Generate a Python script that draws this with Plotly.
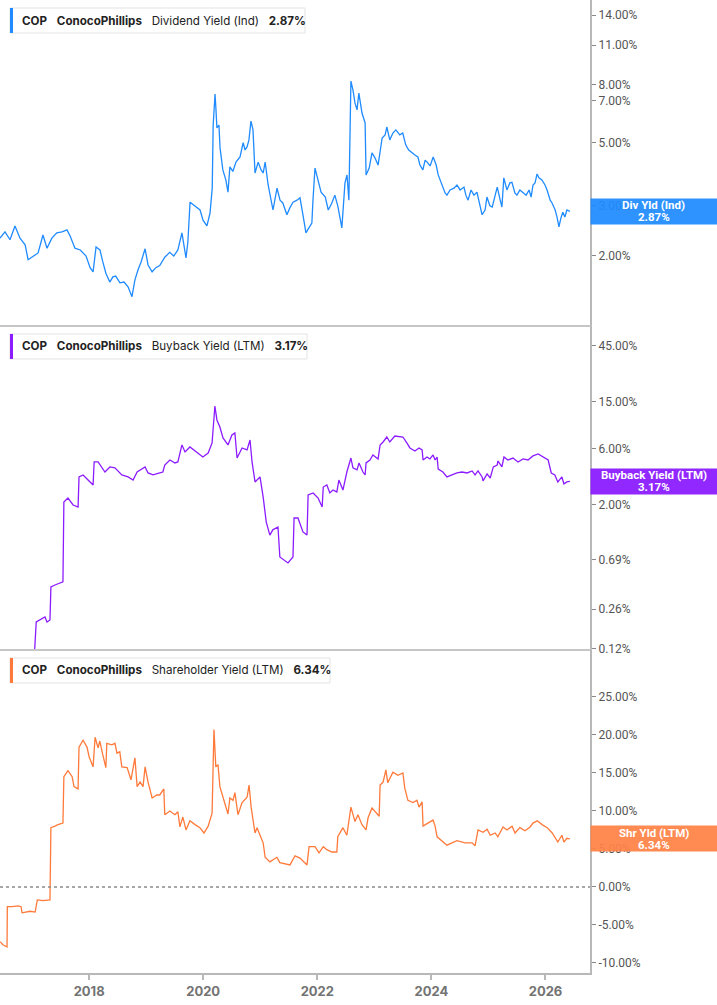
import numpy as np
import plotly.graph_objects as go
from plotly.subplots import make_subplots

# ---------------- data ----------------
div_dates = [
    "2016-06-09", "2016-07-11", "2016-08-12", "2016-09-13", "2016-10-15", "2016-11-17", "2016-12-06",
    "2017-01-07", "2017-02-08", "2017-03-11", "2017-04-06", "2017-05-07", "2017-06-08", "2017-07-11",
    "2017-08-12", "2017-09-01", "2017-10-02", "2017-11-05", "2017-12-12", "2018-01-07", "2018-01-26",
    "2018-02-14", "2018-03-11", "2018-03-29", "2018-04-18", "2018-05-13", "2018-06-02", "2018-06-20",
    "2018-07-17", "2018-08-12", "2018-09-07", "2018-10-02", "2018-10-21", "2018-11-10", "2018-11-30",
    "2018-12-25", "2019-01-13", "2019-02-08", "2019-03-04", "2019-03-29", "2019-04-30", "2019-06-01",
    "2019-06-27", "2019-07-23", "2019-08-18", "2019-09-13", "2019-09-25", "2019-10-09", "2019-11-10",
    "2019-12-12", "2019-12-31", "2020-01-25", "2020-02-14", "2020-02-28", "2020-03-05", "2020-03-17",
    "2020-03-23", "2020-03-29", "2020-04-11", "2020-04-18", "2020-05-06", "2020-05-25", "2020-06-08",
    "2020-06-20", "2020-07-09", "2020-07-29", "2020-08-24", "2020-09-13", "2020-09-25", "2020-10-08",
    "2020-10-20", "2020-11-02", "2020-11-15", "2020-11-28", "2020-12-18", "2021-01-06", "2021-01-19",
    "2021-02-01", "2021-02-20", "2021-03-05", "2021-03-23", "2021-04-18", "2021-05-07", "2021-05-25",
    "2021-06-20", "2021-07-09", "2021-07-29", "2021-08-24", "2021-09-12", "2021-10-01", "2021-10-20",
    "2021-11-08", "2021-11-27", "2021-12-04", "2021-12-17", "2022-01-05", "2022-01-25", "2022-02-21",
    "2022-03-12", "2022-04-04", "2022-04-23", "2022-05-12", "2022-06-07", "2022-06-27", "2022-07-10",
    "2022-07-22", "2022-07-28", "2022-08-04", "2022-08-17", "2022-08-30", "2022-09-12", "2022-09-24",
    "2022-10-14", "2022-11-03", "2022-11-09", "2022-11-29", "2022-12-17", "2023-01-05", "2023-01-25",
    "2023-02-07", "2023-02-20", "2023-03-11", "2023-03-22", "2023-04-10", "2023-04-30", "2023-05-19",
    "2023-06-13", "2023-07-02", "2023-07-21", "2023-08-09", "2023-08-30", "2023-09-18", "2023-10-07",
    "2023-10-20", "2023-11-08", "2023-11-22", "2023-12-05", "2023-12-24", "2024-01-13", "2024-02-01",
    "2024-02-14", "2024-03-10", "2024-03-29", "2024-04-10", "2024-04-30", "2024-05-25", "2024-06-13",
    "2024-07-03", "2024-07-28", "2024-08-09", "2024-08-23", "2024-09-11", "2024-09-30", "2024-10-19",
    "2024-11-08", "2024-11-21", "2024-12-10", "2024-12-22", "2025-01-10", "2025-01-25", "2025-02-13",
    "2025-02-26", "2025-03-17", "2025-03-28", "2025-04-09", "2025-04-29", "2025-05-18", "2025-05-31",
    "2025-06-19", "2025-07-02", "2025-07-21", "2025-08-09", "2025-08-30", "2025-09-18", "2025-10-01",
    "2025-10-13", "2025-10-26", "2025-11-08", "2025-11-20", "2025-12-09", "2025-12-29", "2026-01-11",
    "2026-01-31", "2026-02-12", "2026-03-04", "2026-03-17", "2026-03-28", "2026-04-10", "2026-04-22",
    "2026-05-05", "2026-05-18", "2026-06-06",
]
div_vals = [
    2.31, 2.43, 2.28, 2.55, 2.31, 2.19, 1.94,
    2.00, 2.05, 2.37, 2.13, 2.31, 2.41, 2.43,
    2.47, 2.35, 2.13, 2.10, 2.00, 1.82, 1.76,
    2.15, 2.10, 1.91, 1.74, 1.62, 1.69, 1.70,
    1.61, 1.62, 1.56, 1.44, 1.65, 1.79, 1.91,
    2.12, 1.86, 1.76, 1.82, 1.85, 1.98, 2.06,
    2.00, 2.10, 2.41, 1.97, 2.24, 3.09, 3.00,
    2.90, 2.67, 2.55, 2.83, 3.46, 5.76, 7.40,
    6.51, 5.63, 5.76, 4.79, 4.01, 3.70, 3.35,
    4.11, 3.96, 4.27, 4.45, 5.00, 4.71, 4.83,
    5.11, 5.95, 5.54, 3.91, 4.27, 4.01, 3.91,
    4.27, 3.55, 3.22, 2.90, 3.46, 3.14, 3.07,
    2.79, 2.95, 3.09, 3.14, 3.20, 2.79, 2.41,
    2.51, 2.61, 3.14, 4.07, 3.70, 3.35, 3.22,
    2.90, 3.07, 3.27, 3.00, 2.51, 3.61, 3.85,
    3.14, 5.11, 8.22, 7.65, 6.89, 6.51, 7.46,
    6.35, 5.86, 3.85, 4.07, 4.60, 4.42, 4.17,
    4.71, 5.19, 5.32, 5.67, 5.11, 5.40, 5.54,
    5.32, 5.40, 4.91, 4.71, 4.60, 4.52, 4.45,
    4.17, 4.01, 4.34, 4.27, 4.14, 4.45, 4.17,
    3.85, 3.55, 3.33, 3.27, 3.41, 3.46, 3.55,
    3.41, 3.49, 3.27, 3.14, 3.41, 3.27, 3.35,
    3.00, 2.79, 2.90, 3.22, 3.00, 2.97, 3.27,
    3.49, 3.14, 2.97, 3.76, 3.41, 3.61, 3.63,
    3.33, 3.27, 3.41, 3.35, 3.27, 3.41, 3.22,
    3.55, 3.61, 3.88, 3.76, 3.70, 3.55, 3.41,
    3.14, 3.07, 2.90, 2.72, 2.53, 2.72, 2.85,
    2.74, 2.90, 2.87,
]

bb_dates = [
    "2017-01-14", "2017-01-27", "2017-03-24", "2017-04-06", "2017-04-25", "2017-05-01", "2017-05-27",
    "2017-06-28", "2017-07-17", "2017-07-23", "2017-08-18", "2017-09-20", "2017-10-22", "2017-10-28",
    "2017-11-23", "2017-12-25", "2018-01-26", "2018-02-02", "2018-02-27", "2018-04-12", "2018-05-14",
    "2018-06-15", "2018-07-29", "2018-09-07", "2018-10-09", "2018-11-04", "2018-12-25", "2019-01-13",
    "2019-02-14", "2019-03-29", "2019-04-18", "2019-04-30", "2019-06-02", "2019-07-04", "2019-07-23",
    "2019-08-18", "2019-09-07", "2019-10-08", "2019-11-22", "2019-12-30", "2020-02-02", "2020-02-27",
    "2020-03-16", "2020-03-29", "2020-04-17", "2020-05-07", "2020-06-08", "2020-07-03", "2020-07-22",
    "2020-08-05", "2020-09-06", "2020-10-08", "2020-10-27", "2020-11-09", "2020-11-28", "2020-12-30",
    "2021-01-19", "2021-02-08", "2021-03-03", "2021-03-22", "2021-04-24", "2021-05-06", "2021-06-27",
    "2021-07-29", "2021-08-05", "2021-08-30", "2021-10-01", "2021-10-27", "2021-11-03", "2021-12-05",
    "2022-01-06", "2022-02-01", "2022-02-08", "2022-03-03", "2022-03-22", "2022-04-11", "2022-05-06",
    "2022-05-19", "2022-06-14", "2022-07-09", "2022-08-04", "2022-08-17", "2022-09-12", "2022-09-25",
    "2022-10-20", "2022-11-03", "2022-11-09", "2022-12-04", "2022-12-23", "2023-01-25", "2023-02-07",
    "2023-02-26", "2023-03-22", "2023-04-10", "2023-05-12", "2023-06-14", "2023-07-03", "2023-07-28",
    "2023-08-17", "2023-09-18", "2023-10-14", "2023-11-03", "2023-11-09", "2023-12-04", "2023-12-23",
    "2024-01-12", "2024-01-25", "2024-02-07", "2024-02-14", "2024-03-15", "2024-04-10", "2024-05-12",
    "2024-06-13", "2024-07-15", "2024-08-17", "2024-09-18", "2024-10-07", "2024-10-26", "2024-11-21",
    "2024-11-27", "2024-12-23", "2025-01-12", "2025-02-01", "2025-02-26", "2025-03-02", "2025-03-28",
    "2025-04-10", "2025-05-05", "2025-06-07", "2025-07-09", "2025-08-10", "2025-09-11", "2025-10-13",
    "2025-11-15", "2025-12-16", "2026-01-18", "2026-02-07", "2026-03-02", "2026-03-21", "2026-04-16",
    "2026-04-29", "2026-05-18", "2026-06-06",
]
bb_vals = [
    0.10, 0.203, 0.224, 0.203, 0.211, 0.402, 0.418,
    0.43, 0.444, 2.12, 2.29, 2.00, 1.92, 3.46,
    3.60, 3.26, 2.96, 4.64, 4.64, 3.81, 4.21,
    4.13, 3.60, 3.46, 3.26, 3.81, 4.21, 3.74,
    3.60, 3.74, 3.81, 4.37, 4.82, 4.55, 4.64,
    6.47, 5.64, 6.22, 5.64, 5.11, 5.53, 6.73,
    13.87, 10.55, 9.20, 7.42, 6.47, 7.86, 8.18,
    5.01, 6.10, 5.87, 7.13, 4.64, 3.14, 3.46,
    2.34, 1.43, 1.11, 1.23, 1.30, 0.723, 0.643,
    0.723, 1.55, 1.55, 1.18, 1.11, 2.43, 2.53,
    2.29, 1.92, 2.84, 2.96, 2.53, 2.68, 2.58,
    3.26, 2.68, 3.81, 5.01, 4.13, 3.97, 4.55,
    3.81, 3.60, 4.55, 4.82, 5.32, 4.92, 6.47,
    6.86, 7.56, 6.86, 7.71, 7.56, 7.56, 6.73,
    6.10, 5.75, 6.10, 5.87, 4.82, 5.11, 4.92,
    5.32, 4.82, 5.11, 4.04, 3.81, 3.46, 3.60,
    3.74, 3.81, 3.74, 3.89, 3.60, 3.89, 3.46,
    3.20, 3.67, 3.39, 4.21, 4.37, 4.73, 4.21,
    5.11, 4.82, 5.01, 4.64, 4.92, 4.82, 5.22,
    5.43, 5.11, 4.82, 3.74, 3.60, 3.14, 3.46,
    3.02, 3.14, 3.17,
]

shr_dates = [
    "2016-06-09", "2016-06-28", "2016-07-24", "2016-07-26", "2016-08-25", "2016-10-03", "2016-10-22",
    "2016-10-28", "2016-12-19", "2017-01-20", "2017-02-03", "2017-03-11", "2017-04-25", "2017-05-01",
    "2017-05-27", "2017-06-15", "2017-07-17", "2017-07-23", "2017-08-18", "2017-09-14", "2017-09-26",
    "2017-10-22", "2017-10-28", "2017-11-23", "2017-12-18", "2018-01-01", "2018-01-26", "2018-02-08",
    "2018-02-27", "2018-03-10", "2018-03-29", "2018-04-18", "2018-04-24", "2018-05-26", "2018-06-15",
    "2018-06-28", "2018-07-16", "2018-07-29", "2018-09-01", "2018-09-26", "2018-10-21", "2018-11-04",
    "2018-11-23", "2018-12-12", "2018-12-25", "2019-01-13", "2019-02-08", "2019-03-10", "2019-03-29",
    "2019-04-24", "2019-04-30", "2019-06-02", "2019-07-04", "2019-07-23", "2019-08-05", "2019-08-24",
    "2019-09-13", "2019-10-08", "2019-11-10", "2019-12-11", "2020-01-06", "2020-02-02", "2020-02-27",
    "2020-03-10", "2020-03-22", "2020-04-05", "2020-04-17", "2020-05-07", "2020-05-19", "2020-06-08",
    "2020-06-20", "2020-07-10", "2020-07-22", "2020-08-11", "2020-09-06", "2020-10-08", "2020-10-21",
    "2020-11-03", "2020-11-28", "2020-12-11", "2020-12-30", "2021-01-19", "2021-02-01", "2021-03-03",
    "2021-04-17", "2021-05-06", "2021-07-10", "2021-08-11", "2021-09-12", "2021-10-27", "2021-11-09",
    "2021-12-17", "2022-01-12", "2022-02-08", "2022-03-03", "2022-04-04", "2022-05-06", "2022-05-12",
    "2022-06-14", "2022-07-09", "2022-08-04", "2022-08-30", "2022-09-18", "2022-10-14", "2022-11-09",
    "2022-11-22", "2022-12-17", "2023-01-19", "2023-02-01", "2023-02-07", "2023-02-26", "2023-03-16",
    "2023-03-28", "2023-04-30", "2023-06-01", "2023-07-03", "2023-07-15", "2023-08-04", "2023-09-06",
    "2023-10-01", "2023-10-14", "2023-11-03", "2023-11-09", "2023-12-10", "2024-01-12", "2024-01-25",
    "2024-02-07", "2024-04-10", "2024-06-13", "2024-08-04", "2024-09-18", "2024-10-07", "2024-10-26",
    "2024-11-27", "2024-12-23", "2025-01-12", "2025-02-13", "2025-03-02", "2025-04-04", "2025-04-29",
    "2025-06-01", "2025-06-20", "2025-07-21", "2025-08-23", "2025-09-24", "2025-10-13", "2025-11-09",
    "2025-12-10", "2026-01-12", "2026-02-13", "2026-03-02", "2026-03-21", "2026-04-16", "2026-04-29",
    "2026-05-18", "2026-06-06",
]
shr_vals = [
    -7.2, -7.6, -7.9, -2.6, -2.6, -2.5, -2.6,
    -3.4, -3.2, -3.3, -1.7, -1.8, -1.7, 7.8,
    8.0, 8.2, 8.4, 14.5, 15.3, 14.5, 13.2,
    12.9, 18.4, 19.3, 18.4, 17.1, 15.8, 19.7,
    18.3, 19.2, 17.4, 15.7, 18.9, 18.7, 18.9,
    17.6, 17.8, 15.8, 15.7, 14.1, 17.0, 13.2,
    13.8, 13.2, 15.8, 13.8, 11.7, 12.1, 12.1,
    12.9, 9.5, 10.0, 9.5, 9.9, 7.9, 9.2,
    7.5, 8.7, 8.2, 7.8, 7.1, 8.0, 9.7,
    20.7, 15.8, 16.1, 13.2, 11.8, 11.2, 9.6,
    11.7, 11.4, 12.4, 9.5, 11.1, 11.8, 13.4,
    10.5, 7.1, 7.8, 6.8, 5.8, 3.9, 3.3,
    3.9, 3.2, 2.9, 4.1, 3.8, 2.9, 5.3,
    5.3, 4.5, 5.3, 4.9, 4.6, 4.6, 6.6,
    7.8, 6.8, 10.5, 8.6, 9.5, 8.2, 7.5,
    9.1, 10.4, 9.7, 9.3, 13.4, 13.8, 15.4,
    13.7, 15.1, 14.7, 15.0, 13.0, 11.4, 11.1,
    11.4, 10.5, 11.2, 8.0, 8.4, 8.8, 8.0,
    6.6, 5.5, 6.1, 5.8, 5.8, 5.4, 7.5,
    7.2, 7.6, 6.8, 7.1, 6.6, 7.9, 7.5,
    8.0, 7.1, 7.8, 7.4, 7.9, 8.4, 8.7,
    8.2, 7.8, 7.1, 6.6, 5.9, 6.8, 5.9,
    6.4, 6.34,
]

div_ticks = [2, 3, 5, 7, 8, 11, 14]
bb_ticks = [0.12, 0.26, 0.69, 2, 6, 15, 45]
shr_ticks = [-10, -5, 0, 5, 10, 15, 20, 25]
year_ticks = ["2018-01-01", "2020-01-01", "2022-01-01", "2024-01-01", "2026-01-01"]
year_labels = ["2018", "2020", "2022", "2024", "2026"]

ticker = "COP"
company = "ConocoPhillips"
series_names = ["Dividend Yield (Ind)", "Buyback Yield (LTM)", "Shareholder Yield (LTM)"]
short_names = ["Div Yld (Ind)", "Buyback Yield (LTM)", "Shr Yld (LTM)"]
last_vals = [2.87, 3.17, 6.34]

# ---------------- styling ----------------
C_BLUE = "#1f8bff"
C_PURPLE = "#8c1cff"
C_ORANGE = "#ff7a3a"
BOX_COLORS = ["rgba(30,139,255,0.93)", "rgba(139,28,255,0.95)", "rgba(255,130,70,0.93)"]
AX_LINE = "#b8b8b8"
TICK_FONT = dict(family="Roboto, Arial, sans-serif", size=12, color="#555555")

fig = make_subplots(rows=3, cols=1, shared_xaxes=True, vertical_spacing=0.002)

for i, (d, v, c) in enumerate([(div_dates, div_vals, C_BLUE),
                                (bb_dates, bb_vals, C_PURPLE),
                                (shr_dates, shr_vals, C_ORANGE)]):
    fig.add_trace(go.Scatter(x=d, y=v, mode="lines", line=dict(color=c, width=1.3),
                             hoverinfo="skip", showlegend=False), row=i + 1, col=1)

x_range = ["2016-06-09", "2026-10-13"]
common_x = dict(range=x_range, showgrid=False, zeroline=False, showline=True,
                linecolor="#c6c6c6", linewidth=1.5)
fig.update_layout(
    xaxis=dict(**common_x, showticklabels=False, ticks=""),
    xaxis2=dict(**common_x, showticklabels=False, ticks=""),
    xaxis3=dict(range=x_range, showgrid=False, zeroline=False, showline=True,
                linecolor=AX_LINE, linewidth=2, ticks="outside", ticklen=5,
                tickcolor=AX_LINE, tickwidth=1.5,
                tickvals=year_ticks, ticktext=year_labels,
                tickfont=dict(family="Inter, Arial, sans-serif", size=13, color="#737373",
                              weight="bold")),
)

common_y = dict(side="right", showgrid=False, zeroline=False, showline=True,
                linecolor=AX_LINE, linewidth=2, ticks="outside", ticklen=4,
                tickcolor="#888888", tickfont=TICK_FONT)
fig.update_layout(
    yaxis=dict(**common_y, type="log", domain=[0.666, 1.0],
               range=[0.05892, 1.19928],
               tickvals=div_ticks, ticktext=[f"{t:.2f}%" for t in div_ticks]),
    yaxis2=dict(**common_y, type="log", domain=[0.333, 0.665],
                range=[-0.92242, 1.82185],
                tickvals=bb_ticks, ticktext=[f"{t:.2f}%" for t in bb_ticks]),
    yaxis3=dict(**common_y, type="linear", domain=[0.0, 0.332],
                range=[-11.32, 31.18],
                tickvals=shr_ticks, ticktext=[f"{t:.2f}%" for t in shr_ticks]),
)

# dotted zero line in the bottom panel
fig.add_hline(y=0, row=3, col=1, line=dict(color="#8a8a8a", width=1.5, dash="dot"))

annotations = []
shapes = []
colors = [C_BLUE, C_PURPLE, C_ORANGE]
legend_widths = [295, 297, 320]
yrefs = ["y", "y2", "y3"]
log_axes = [True, True, False]
sp = "\u00a0\u00a0\u00a0"
for i in range(3):
    xdom = "x domain" if i == 0 else f"x{i+1} domain"
    # legend box (white card with coloured stripe)
    shapes.append(dict(type="rect", xref=xdom, yref=f"{yrefs[i]} domain",
                       xsizemode="pixel", ysizemode="pixel", xanchor=0, yanchor=1,
                       x0=10, x1=10 + legend_widths[i], y0=-8, y1=-33,
                       line=dict(color="#e3e3e3", width=1), fillcolor="white", layer="above"))
    shapes.append(dict(type="rect", xref=xdom, yref=f"{yrefs[i]} domain",
                       xsizemode="pixel", ysizemode="pixel", xanchor=0, yanchor=1,
                       x0=10, x1=13, y0=-8, y1=-33,
                       line=dict(width=0), fillcolor=colors[i], layer="above"))
    annotations.append(dict(
        xref=xdom, yref=f"{yrefs[i]} domain",
        x=0, y=1, xanchor="left", yanchor="middle", xshift=20, yshift=-20.5,
        text=f"<b>{ticker}</b>{sp}<b>{company}</b>{sp}{series_names[i]}{sp}<b>{last_vals[i]:.2f}%</b>",
        showarrow=False, font=dict(family="Inter, Arial, sans-serif", size=11.6, color="#222222")))
    # value box on the right axis
    yv = np.log10(last_vals[i]) if log_axes[i] else last_vals[i]
    annotations.append(dict(xref="paper", yref=yrefs[i], x=1, y=yv, xanchor="left",
                            yanchor="middle", text=" ", width=127, height=25, borderpad=0,
                            bgcolor=BOX_COLORS[i], showarrow=False))
    for txt, shift in [(short_names[i], 6), (f"{last_vals[i]:.2f}%", -6)]:
        annotations.append(dict(xref="paper", yref=yrefs[i], x=1 + 63.5 / 590, y=yv,
                                xanchor="center", yanchor="middle", yshift=shift,
                                text=f"<b>{txt}</b>", showarrow=False,
                                font=dict(family="Roboto, Arial, sans-serif", size=11.5,
                                          color="white")))

fig.update_layout(
    width=717, height=1005,
    margin=dict(l=0, r=127, t=0, b=32),
    paper_bgcolor="white", plot_bgcolor="white",
    showlegend=False,
    annotations=list(fig.layout.annotations) + annotations,
    shapes=list(fig.layout.shapes) + shapes,
)

fig.write_html("out.html")
